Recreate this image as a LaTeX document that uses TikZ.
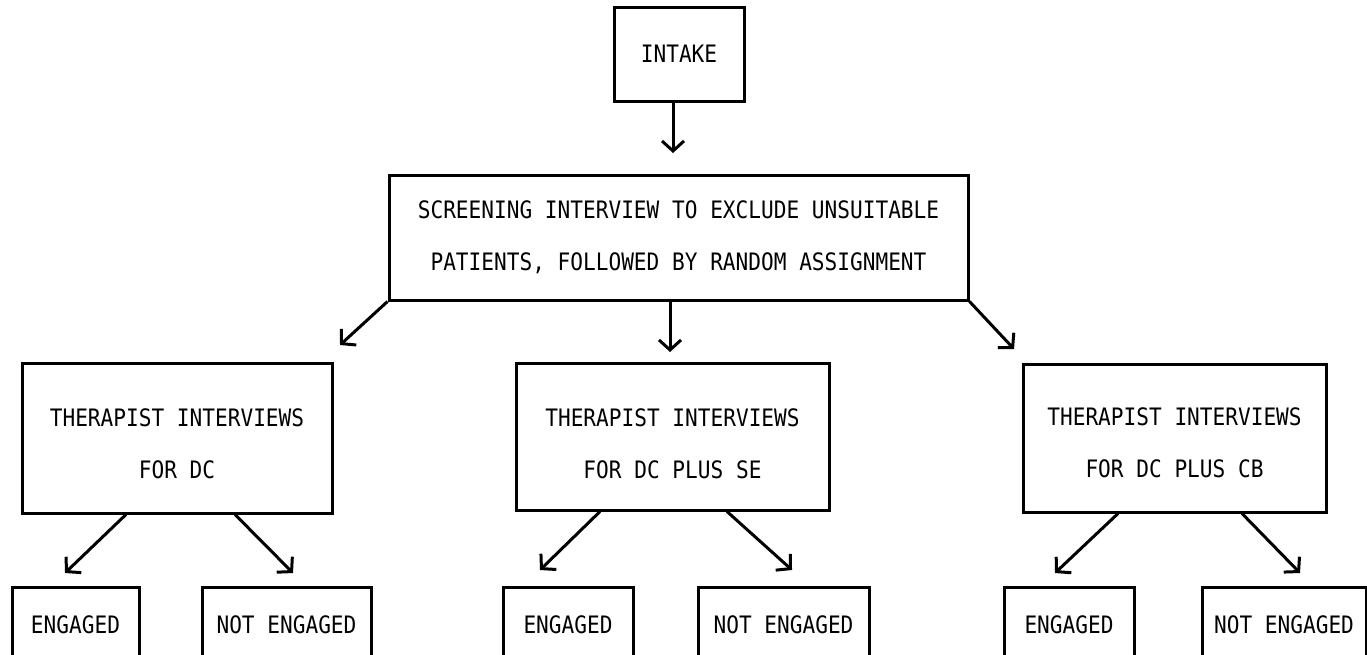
\documentclass[tikz,border=0pt]{standalone}
\usepackage{fontspec}
\usetikzlibrary{arrows.meta}
\newfontfamily\tw[FakeStretch=0.88]{DejaVu Sans Mono}
\tikzset{
  box/.style={draw=black, line width=3pt, inner sep=0pt, fill=white},
  txt/.style={font={\tw\fontsize{24}{52}\selectfont}, inner sep=0pt, align=center},
  arr/.style={line width=3pt, -{Straight Barb[length=10pt,width=22pt,line width=3pt]}}
}
\begin{document}
\begin{tikzpicture}[x=1pt,y=-1pt]
\useasboundingbox (0,0) rectangle (1367,654);
% boxes
\node[box, minimum width=130pt, minimum height=94pt, txt] (intake) at (679,54) {INTAKE};
\node[box, minimum width=579pt, minimum height=125pt, txt] (screen) at (678.5,237.5)
  {SCREENING INTERVIEW TO EXCLUDE UNSUITABLE\\PATIENTS, FOLLOWED BY RANDOM ASSIGNMENT};
\node[box, minimum width=310pt, minimum height=150pt] (dc) at (177,438) {};
\node[box, minimum width=313pt, minimum height=147pt] (se) at (672.5,436.5) {};
\node[box, minimum width=303pt, minimum height=148pt] (cb) at (1174.5,438) {};
\node[txt] (dct) at (177,444) {THERAPIST INTERVIEWS\\FOR DC};
\node[txt] (set) at (672.5,444) {THERAPIST INTERVIEWS\\FOR DC PLUS SE};
\node[txt] (cbt) at (1174.5,443) {THERAPIST INTERVIEWS\\FOR DC PLUS CB};
% outcome boxes (bottom edge runs off the page)
\node[box, minimum width=127pt, minimum height=76pt, txt] (e1) at (75.5,625) {ENGAGED};
\node[box, minimum width=169pt, minimum height=76pt, txt] (n1) at (286.5,625) {NOT ENGAGED};
\node[box, minimum width=130pt, minimum height=76pt, txt] (e2) at (568,625) {ENGAGED};
\node[box, minimum width=171pt, minimum height=76pt, txt] (n2) at (783.5,625) {NOT ENGAGED};
\node[box, minimum width=130pt, minimum height=76pt, txt] (e3) at (1069,625) {ENGAGED};
\node[box, minimum width=164pt, minimum height=76pt, txt] (n3) at (1284,625) {NOT ENGAGED};
% arrow tips
\coordinate (a0) at (673,153);
\coordinate (aL) at (340,345);
\coordinate (aM) at (670,352);
\coordinate (aR) at (1014,349);
\coordinate (b1) at (65,573);
\coordinate (b2) at (293,573);
\coordinate (b3) at (540,570);
\coordinate (b4) at (792,570);
\coordinate (b5) at (1055,573);
\coordinate (b6) at (1300,573);
% connectors
\draw[arr] (intake.south -| a0) -- (a0);
\draw[arr] (screen.south west) -- (aL);
\draw[arr] (screen.south -| aM) -- (aM);
\draw[arr] (screen.south east) -- (aR);
\draw[arr] (dc.south -| 126,0) -- (b1);
\draw[arr] (dc.south -| 235,0) -- (b2);
\draw[arr] (se.south -| 600,0) -- (b3);
\draw[arr] (se.south -| 727,0) -- (b4);
\draw[arr] (cb.south -| 1118,0) -- (b5);
\draw[arr] (cb.south -| 1242,0) -- (b6);
\end{tikzpicture}
\end{document}
